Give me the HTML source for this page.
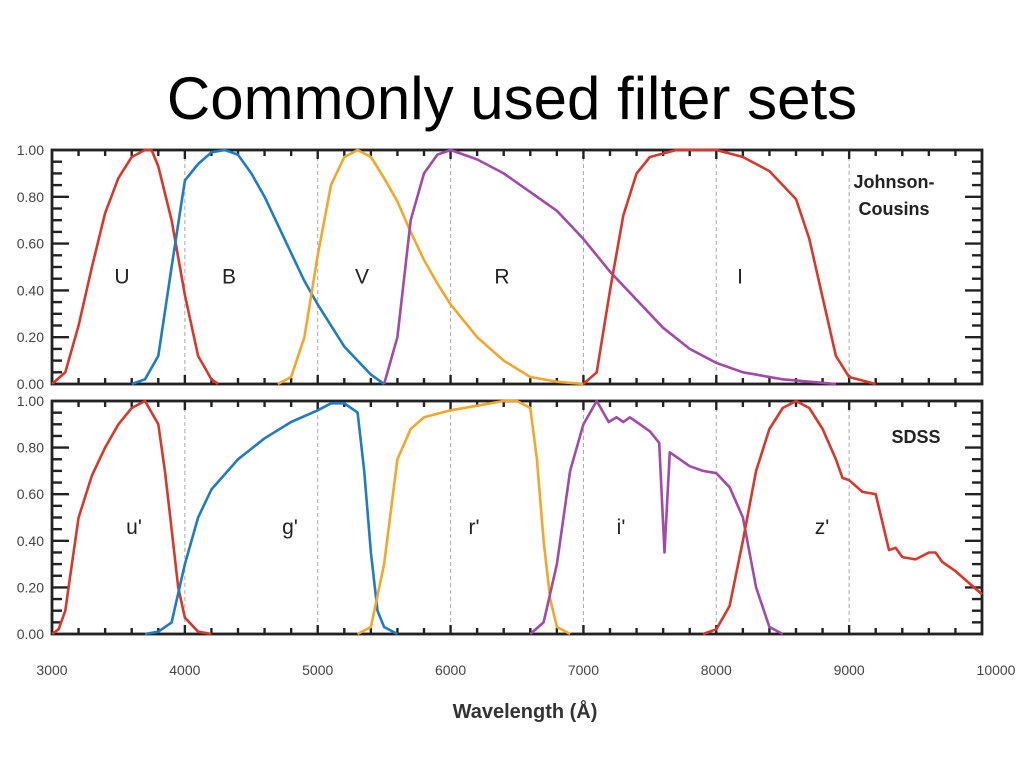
<!DOCTYPE html>
<html><head><meta charset="utf-8"><style>
body{margin:0;background:#fff;}
svg text{font-family:"Liberation Sans",sans-serif;}
</style></head><body>
<svg id="c" width="1024" height="768" xmlns="http://www.w3.org/2000/svg">
<text x="512" y="119" text-anchor="middle" font-size="60" fill="#000">Commonly used filter sets</text>
<g id="g"></g>
<text x="525" y="718" text-anchor="middle" font-size="20" font-weight="bold" fill="#333">Wavelength (Å)</text>
</svg>
<script>
const xTicks=[3000,4000,5000,6000,7000,8000,9000,10000];
const xTickLabels=["3000","4000","5000","6000","7000","8000","9000","10000"];
const yTicks=[0,0.2,0.4,0.6,0.8,1.0];
const yTickLabels=["0.00","0.20","0.40","0.60","0.80","1.00"];
const uW=[3000,3100,3200,3300,3400,3500,3600,3700,3750,3800,3900,4000,4100,4200,4250];
const uV=[0,0.05,0.25,0.5,0.73,0.88,0.97,1.0,1.0,0.93,0.7,0.38,0.12,0.02,0];
const bW=[3600,3700,3800,3900,4000,4100,4200,4300,4400,4500,4600,4700,4800,4900,5000,5200,5400,5500];
const bV=[0,0.02,0.12,0.5,0.87,0.94,0.99,1.0,0.98,0.9,0.8,0.68,0.56,0.44,0.34,0.16,0.04,0];
const vW=[4700,4800,4900,5000,5100,5200,5300,5400,5500,5600,5700,5800,5900,6000,6200,6400,6600,6800,7000];
const vV=[0,0.03,0.2,0.55,0.85,0.97,1.0,0.97,0.88,0.78,0.65,0.53,0.43,0.34,0.2,0.1,0.03,0.01,0];
const rW=[5500,5600,5700,5800,5900,6000,6200,6400,6600,6800,7000,7200,7400,7600,7800,8000,8200,8500,8900];
const rV=[0,0.2,0.7,0.9,0.98,1.0,0.96,0.9,0.82,0.74,0.62,0.48,0.36,0.24,0.15,0.09,0.05,0.02,0];
const iW=[7000,7100,7200,7300,7400,7500,7700,8000,8200,8400,8600,8700,8800,8900,9000,9200];
const iV=[0,0.05,0.4,0.72,0.9,0.97,1.0,1.0,0.97,0.91,0.79,0.62,0.37,0.12,0.03,0];
const u2W=[3000,3050,3100,3150,3200,3300,3400,3500,3600,3700,3800,3850,3900,3950,4000,4100,4200];
const u2V=[0,0.02,0.1,0.3,0.5,0.68,0.8,0.9,0.97,1.0,0.9,0.7,0.45,0.2,0.07,0.01,0];
const g2W=[3700,3800,3900,4000,4100,4200,4400,4600,4800,5000,5100,5200,5300,5350,5400,5450,5500,5600];
const g2V=[0,0.01,0.05,0.3,0.5,0.62,0.75,0.84,0.91,0.96,0.99,0.99,0.95,0.7,0.35,0.1,0.03,0];
const r2W=[5300,5400,5500,5600,5700,5800,6000,6200,6400,6500,6600,6650,6700,6750,6800,6900];
const r2V=[0,0.03,0.3,0.75,0.88,0.93,0.96,0.98,1.0,1.0,0.97,0.75,0.4,0.15,0.03,0];
const i2W=[6600,6700,6800,6900,7000,7100,7190,7250,7300,7350,7500,7570,7610,7650,7800,7900,8000,8100,8200,8300,8400,8500];
const i2V=[0,0.05,0.3,0.7,0.9,1.0,0.91,0.93,0.91,0.93,0.87,0.82,0.35,0.78,0.72,0.7,0.69,0.63,0.5,0.2,0.03,0];
const z2W=[7900,8000,8100,8200,8300,8400,8500,8600,8700,8800,8900,8950,9000,9100,9200,9300,9350,9400,9500,9600,9650,9700,9800,10000];
const z2V=[0,0.02,0.12,0.4,0.7,0.88,0.97,1.0,0.97,0.88,0.75,0.67,0.66,0.61,0.6,0.36,0.37,0.33,0.32,0.35,0.35,0.31,0.27,0.17];

const X0=52,X1=982,W0=3000,W1=10000;
const xs=w=>X0+(w-W0)/(W1-W0)*(X1-X0);
const panels=[{top:150,bot:384,name:'johnson-cousins'},{top:401,bot:634,name:'sdss'}];
const ys=(p,v)=>p.bot-v*(p.bot-p.top);
const NS='http://www.w3.org/2000/svg';
const g=document.getElementById('g');
function mk(t,a){const e=document.createElementNS(NS,t);for(const k in a)e.setAttribute(k,a[k]);g.appendChild(e);return e;}
panels.forEach((p,pi)=>{
  for(let w=4000;w<=9000;w+=1000){const l=mk('line',{x1:xs(w),x2:xs(w),y1:p.top,y2:p.bot,stroke:'#aaa','stroke-width':1,'stroke-dasharray':'4,3'});
  
  }
  for(let w=3200;w<10000;w+=200){const L=(w%1000===0)?9:6;
    const a=mk('line',{x1:xs(w),x2:xs(w),y1:p.top,y2:p.top+L,stroke:'#222','stroke-width':2.4});
    
    
    const b=mk('line',{x1:xs(w),x2:xs(w),y1:p.bot,y2:p.bot-L,stroke:'#222','stroke-width':2.4});
    
    }
  for(let i=1;i<20;i++){const v=i*0.05;const L=(i%4===0)?17:10;
    const a=mk('line',{x1:X0,x2:X0+L,y1:ys(p,v),y2:ys(p,v),stroke:'#222','stroke-width':2.4});
    
    
    const b=mk('line',{x1:X1,x2:X1-L,y1:ys(p,v),y2:ys(p,v),stroke:'#222','stroke-width':2.4});
    
    }
  yTicks.forEach((v,i)=>{const t=mk('text',{x:44,y:ys(p,v)+5,'text-anchor':'end','font-size':14,fill:'#444'});t.textContent=yTickLabels[i];
    
    });
  const f=mk('rect',{x:X0,y:p.top,width:X1-X0,height:p.bot-p.top,fill:'none',stroke:'#222','stroke-width':2.8});
  
  
});
const series=[
 [0,uW,uV,'#d8382c','U',122,'u-curve'],[0,bW,bV,'#1f7cc1','B',229,'b-curve'],[0,vW,vV,'#f2a72a','V',362,'v-curve'],
 [0,rW,rV,'#a14aa8','R',502,'r-curve'],[0,iW,iV,'#d8382c','I',740,'i-curve'],
 [1,u2W,u2V,'#d8382c',"u'",134,'u-prime-curve'],[1,g2W,g2V,'#1f7cc1',"g'",290,'g-prime-curve'],[1,r2W,r2V,'#f2a72a',"r'",474,'r-prime-curve'],
 [1,i2W,i2V,'#a14aa8',"i'",621,'i-prime-curve'],[1,z2W,z2V,'#d8382c',"z'",822,'z-prime-curve']];
series.forEach(s=>{const p=panels[s[0]];
  const d=s[1].map((w,i)=>(i?'L':'M')+xs(w).toFixed(1)+','+ys(p,s[2][i]).toFixed(1)).join(' ');
  const e=mk('path',{d:d,fill:'none',stroke:s[3],'stroke-width':2.6,'stroke-linejoin':'round'});
  
  
  const t=mk('text',{x:s[5],y:ys(p,0.43),'text-anchor':'middle','font-size':21,fill:'#222'});t.textContent=s[4];
  
  
});
xTicks.forEach((w,i)=>{const t=mk('text',{x:xs(w)+(i===7?14:0),y:675,'text-anchor':'middle','font-size':14,fill:'#444'});t.textContent=xTickLabels[i];
  
  });
[["Johnson-",894,188],["Cousins",894,215],["SDSS",916,443]].forEach(a=>{const t=mk('text',{x:a[1],y:a[2],'text-anchor':'middle','font-size':18,'font-weight':'bold',fill:'#222'});t.textContent=a[0];
  
  });
</script>
</body></html>
